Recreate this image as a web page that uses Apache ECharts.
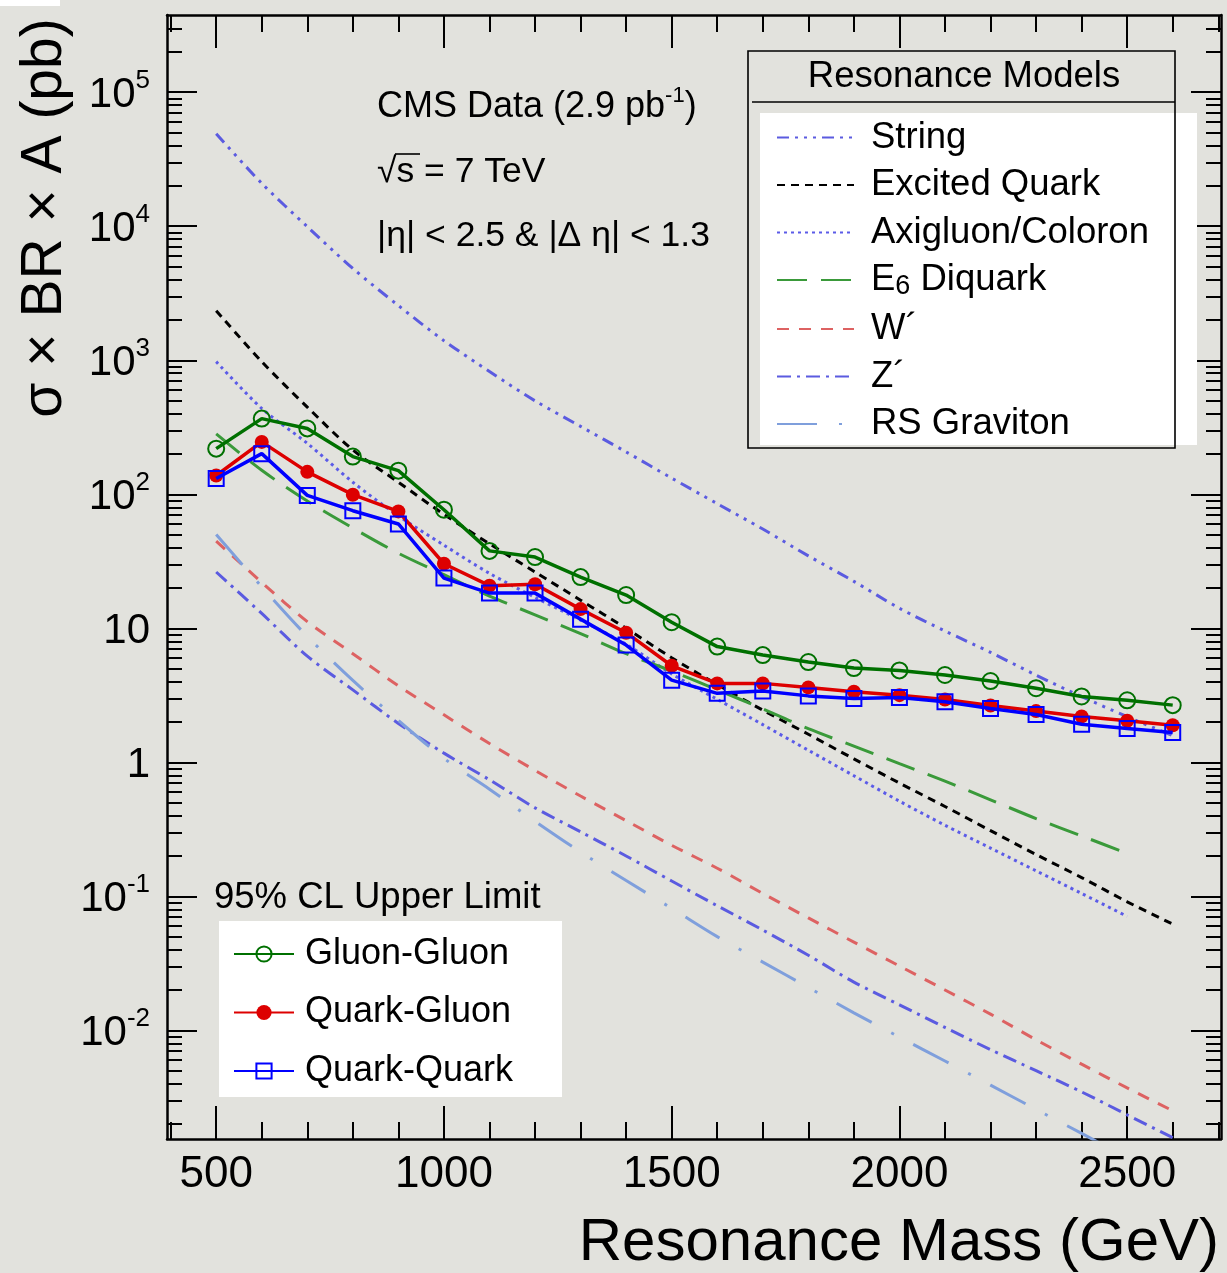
<!DOCTYPE html>
<html><head><meta charset="utf-8">
<script src="https://cdn.jsdelivr.net/npm/echarts@6/dist/echarts.min.js"></script>
<style>html,body{margin:0;padding:0;background:#e2e2dd}#c{width:1227px;height:1273px}</style>
</head><body><div id="c"></div>
<script>
// ---------- data ----------
const masses = [500,600,700,800,900,1000,1100,1200,1300,1400,1500,1600,1700,1800,1900,2000,2100,2200,2300,2400,2500,2600];
const masses2500 = masses.slice(0, 21);

// 95% CL upper limits (pb)
const gluonGluon = [219,367,310,191,150,76.7,37.8,34.0,24.1,17.7,11.1,7.3,6.31,5.6,5.05,4.85,4.48,4.04,3.57,3.1,2.9,2.67];
const quarkGluon = [138,246,147,99.3,74.5,30.3,20.8,21.3,13.9,9.27,5.25,3.88,3.88,3.62,3.36,3.17,2.94,2.65,2.41,2.20,2.04,1.89];
const quarkQuark = [131,201,98.1,75.4,60,23.7,18.3,18.3,11.7,7.5,4.1,3.27,3.41,3.13,2.99,3.05,2.83,2.52,2.27,1.92,1.79,1.67];

// resonance models (pb)
const stringModel = [49000,20900,9930,4840,2560,1400,824,498,321,207,132,85.1,55,34.7,22.4,14.1,9.55,6.61,4.47,3.09,2.19,1.58];
const excitedQuark = [2344,977,447,214,123,70.8,42.7,26.3,16.2,10,6.03,3.8,2.45,1.62,1.06,0.70,0.468,0.309,0.205,0.138,0.091,0.062];
const axigluon = [977,437,240,123,69,41.7,25.7,17,11.5,7.6,4.57,2.95,1.91,1.23,0.794,0.513,0.339,0.229,0.155,0.105,0.0708];
const e6Diquark = [282,151,89,56,36.3,25.1,17.4,12.6,9.12,6.46,4.79,3.47,2.51,1.78,1.32,0.977,0.724,0.525,0.38,0.282,0.209];
const wPrime = [44.7,22,11.2,6.46,3.72,2.26,1.38,0.87,0.56,0.367,0.24,0.162,0.105,0.069,0.0455,0.0302,0.02,0.0132,0.0085,0.00559,0.00372,0.00251];
const zPrime = [26.3,12.9,6.2,3.47,1.95,1.17,0.74,0.457,0.303,0.2,0.13,0.085,0.056,0.0363,0.0229,0.0155,0.0105,0.00718,0.005,0.00347,0.00234,0.00158];
const rsGraviton = [50,20.4,8.7,4.08,2.05,1.07,0.63,0.363,0.214,0.131,0.0813,0.05,0.0323,0.0209,0.0135,0.0089,0.0059,0.0039,0.00257,0.0017,0.00112];

// axis ticks
const xMajor = [500,1000,1500,2000,2500];
const xMinor = [400,600,700,800,900,1100,1200,1300,1400,1600,1700,1800,1900,2100,2200,2300,2400,2600,2700];
const yMajor = [0.01,0.1,1,10,100,1000,10000,100000];
const yMinorMult = [2,3,4,5,6,7,8,9];
const yMinorDecades = [0.001,0.01,0.1,1,10,100,1000,10000,100000];
const yMinor = [];
yMinorDecades.forEach(d => yMinorMult.forEach(m => yMinor.push(+(m*d).toPrecision(3))));

const modelNames = ['String','Excited Quark','Axigluon/Coloron','E6 Diquark','W´','Z´','RS Graviton'];
const dataNames = ['Gluon-Gluon','Quark-Gluon','Quark-Quark'];

// ---------- chart ----------
const FONT = 'Liberation Sans';
const X_MIN = 392, X_MAX = 2706, Y_MIN = 0.001545, Y_MAX = 377000;
const pairs = (xs, ys) => ys.map((v, i) => [xs[i], v]);

function xAx(pos, ticks, len, withLabel, withLine) {
  return {
    type: 'value', position: pos, min: X_MIN, max: X_MAX,
    axisLine: {show: withLine, onZero: false, lineStyle: {color: '#000', width: 2.5}},
    axisTick: {show: true, inside: true, length: len, customValues: ticks, lineStyle: {color: '#000', width: 2}},
    axisLabel: withLabel ? {show: true, customValues: xMajor, formatter: v => String(v), fontSize: 44, color: '#000', fontFamily: FONT, margin: 14} : {show: false},
    splitLine: {show: false}
  };
}
function yLabelFmt(v) {
  const e = Math.round(Math.log10(v));
  if (e === 0) return '{b|1}';
  if (e === 1) return '{b|10}';
  return '{b|10}{s|' + e + '}';
}
function yAx(pos, ticks, len, withLabel, withLine) {
  return {
    type: 'log', logBase: 10, position: pos, min: Y_MIN, max: Y_MAX,
    axisLine: {show: withLine, onZero: false, lineStyle: {color: '#000', width: 2.5}},
    axisTick: {show: true, inside: true, length: len, customValues: ticks, lineStyle: {color: '#000', width: 2}},
    axisLabel: withLabel ? {
      show: true, customValues: yMajor, formatter: yLabelFmt, margin: 17,
      rich: {
        b: {fontSize: 42, fontFamily: FONT, color: '#000', lineHeight: 48, verticalAlign: 'bottom'},
        s: {fontSize: 26, fontFamily: FONT, color: '#000', lineHeight: 24, verticalAlign: 'top'}
      }
    } : {show: false},
    splitLine: {show: false}
  };
}

function model(name, xs, ys, color, dash, width) {
  return {
    name, type: 'line', data: pairs(xs, ys), symbol: 'none', smooth: 0.3,
    lineStyle: {color, width: width || 3, type: dash, cap: 'butt'},
    itemStyle: {color}, z: 2, silent: true
  };
}

const series = [
  model('String', masses, stringModel, '#5b5be0', [12,6,3,6,3,6,3,6]),
  model('Excited Quark', masses, excitedQuark, '#000000', [8,6]),
  model('Axigluon/Coloron', masses2500, axigluon, '#5b5be8', [3,4]),
  model('E6 Diquark', masses2500, e6Diquark, '#3a9a3a', [30,14]),
  model('W´', masses, wPrime, '#dd6262', [12,10]),
  model('Z´', masses, zPrime, '#5b5be0', [14,6,3,6]),
  model('RS Graviton', masses2500, rsGraviton, '#7f9fdc', [40,22,3,22]),
  {name: 'Gluon-Gluon', type: 'line', data: pairs(masses, gluonGluon), symbol: 'circle', symbolSize: 16,
   lineStyle: {color: '#007000', width: 3.5}, itemStyle: {color: 'rgba(0,0,0,0)', borderColor: '#007000', borderWidth: 2}, z: 5},
  {name: 'Quark-Gluon', type: 'line', data: pairs(masses, quarkGluon), symbol: 'circle', symbolSize: 14,
   lineStyle: {color: '#dd0000', width: 3.5}, itemStyle: {color: '#dd0000'}, z: 6},
  {name: 'Quark-Quark', type: 'line', data: pairs(masses, quarkQuark), symbol: 'rect', symbolSize: 15,
   lineStyle: {color: '#0000ff', width: 3.5}, itemStyle: {color: 'rgba(0,0,0,0)', borderColor: '#0000ff', borderWidth: 2}, z: 7}
];

function legendRich(fs) {
  return {
    t: {fontSize: fs, fontFamily: FONT, color: '#000', lineHeight: 40},
    sub: {fontSize: 27, fontFamily: FONT, color: '#000', lineHeight: 6, verticalAlign: 'bottom'}
  };
}
function legendFmt(name) {
  if (name === 'E6 Diquark') return '{t|E}{sub|6}{t| Diquark}';
  return '{t|' + name + '}';
}

const option = {
  animation: false,
  backgroundColor: '#e2e2dd',
  grid: {left: 167, right: 6, top: 15, bottom: 134, containLabel: false},
  xAxis: [
    xAx('bottom', xMajor, 33, true, true),
    xAx('bottom', xMinor, 17, false, false),
    xAx('top', xMajor, 33, false, true),
    xAx('top', xMinor, 17, false, false)
  ],
  yAxis: [
    yAx('left', yMajor, 30, true, true),
    yAx('left', yMinor, 15, false, false),
    yAx('right', yMajor, 30, false, true),
    yAx('right', yMinor, 15, false, false)
  ],
  legend: [
    {
      data: modelNames, orient: 'vertical', left: 776, top: 119, padding: 0,
      itemWidth: 77, itemHeight: 20, itemGap: 10.5, selectedMode: false, z: 10,
      formatter: legendFmt,
      textStyle: {fontSize: 36.5, fontFamily: FONT, color: '#000', padding: [0,0,0,12], rich: legendRich(36.5)},
      itemStyle: {color: 'rgba(0,0,0,0)', borderColor: 'rgba(0,0,0,0)', borderWidth: 0, opacity: 0}
    },
    {
      data: dataNames, orient: 'vertical', left: 233, top: 936, padding: 0,
      itemWidth: 60, itemHeight: 19, itemGap: 22.5, selectedMode: false, z: 10,
      formatter: legendFmt,
      textStyle: {fontSize: 36, fontFamily: FONT, color: '#000', padding: [0,0,0,6], rich: legendRich(36)}
    }
  ],
  graphic: [
    {type: 'rect', shape: {x: 0, y: 0, width: 60, height: 6}, style: {fill: '#fff'}, z: 1},
    {type: 'rect', shape: {x: 760, y: 113, width: 437, height: 332}, style: {fill: '#fff'}, z: 1},
    {type: 'rect', shape: {x: 748, y: 51, width: 427, height: 397}, style: {fill: 'none', stroke: '#000', lineWidth: 1.6}, z: 11},
    {type: 'line', shape: {x1: 752, y1: 102, x2: 1175, y2: 102}, style: {stroke: '#000', lineWidth: 1.6}, z: 11},
    {type: 'text', x: 964, y: 77, style: {text: 'Resonance Models', font: '36.5px "Liberation Sans"', fill: '#000', align: 'center', verticalAlign: 'middle'}, z: 11},
    {type: 'rect', shape: {x: 219, y: 921, width: 343, height: 176}, style: {fill: '#fff'}, z: 1},
    {type: 'text', x: 214, y: 898, style: {text: '95% CL Upper Limit', font: '36.5px "Liberation Sans"', fill: '#000', align: 'left', verticalAlign: 'middle'}, z: 11},
    {type: 'text', x: 377, y: 105, style: {
      text: '{a|CMS Data (2.9 pb}{s|-1}{a|)}', align: 'left', verticalAlign: 'middle',
      rich: {a: {fontSize: 36, fontFamily: FONT, fill: '#000', lineHeight: 40, verticalAlign: 'bottom'},
             s: {fontSize: 22, fontFamily: FONT, fill: '#000', lineHeight: 20, verticalAlign: 'top'}}}, z: 11},
    {type: 'text', x: 377, y: 172, style: {text: '√s = 7 TeV', font: '35.5px "Liberation Sans"', fill: '#000', align: 'left', verticalAlign: 'middle'}, z: 11},
    {type: 'line', shape: {x1: 395, y1: 154, x2: 420, y2: 154}, style: {stroke: '#000', lineWidth: 1.6}, z: 11},
    {type: 'text', x: 377, y: 236, style: {text: '|η| < 2.5 & |Δ η| < 1.3', font: '35.5px "Liberation Sans"', fill: '#000', align: 'left', verticalAlign: 'middle'}, z: 11},
    {type: 'text', x: 45, y: 218, rotation: Math.PI / 2, style: {text: 'σ × BR × A (pb)', font: '57px "Liberation Sans"', fill: '#000', align: 'center', verticalAlign: 'middle'}, z: 11},
    {type: 'text', x: 1219, y: 1243, style: {text: 'Resonance Mass (GeV)', font: '60px "Liberation Sans"', fill: '#000', align: 'right', verticalAlign: 'middle'}, z: 11}
  ],
  series
};

const chart = echarts.init(document.getElementById('c'), null, {renderer: 'canvas'});
chart.setOption(option);
</script>
</body></html>
